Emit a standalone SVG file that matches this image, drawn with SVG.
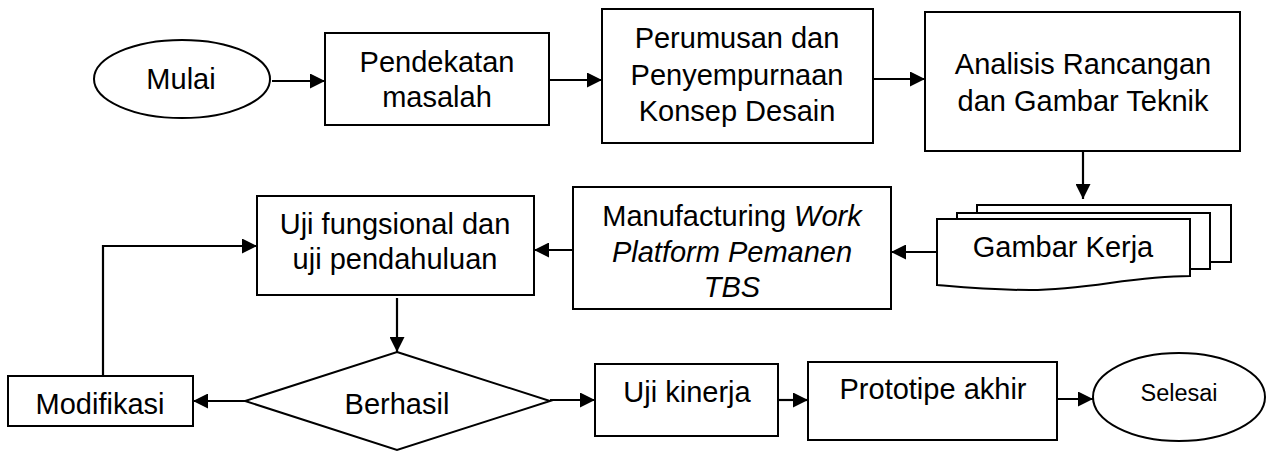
<svg xmlns="http://www.w3.org/2000/svg" width="1266" height="452" viewBox="0 0 1266 452">
<style>
.s{fill:#fff;stroke:#000;stroke-width:2}
.t{font-family:"Liberation Sans",Arial,sans-serif;font-size:29px;fill:#000;text-anchor:middle}
.c{fill:none;stroke:#000;stroke-width:2.2}
</style>
<defs>
<marker id="ah" markerUnits="userSpaceOnUse" markerWidth="15" markerHeight="15" refX="15" refY="7.5" orient="auto">
<path d="M0,0 L15,7.5 L0,15 Z" fill="#000"/>
</marker>
</defs>
<rect width="1266" height="452" fill="#fff"/>
<g id="connectors">
<path class="c" d="M272,81 H325" marker-end="url(#ah)"/>
<path class="c" d="M549,80 H602" marker-end="url(#ah)"/>
<path class="c" d="M873,79 H925" marker-end="url(#ah)"/>
<path class="c" d="M1083,151 V199" marker-end="url(#ah)"/>
<path class="c" d="M937,252 H891" marker-end="url(#ah)"/>
<path class="c" d="M573,250 H534" marker-end="url(#ah)"/>
<path class="c" d="M397,298 V352" marker-end="url(#ah)"/>
<path class="c" d="M245,401 H193" marker-end="url(#ah)"/>
<path class="c" d="M103,376 V246 H257" marker-end="url(#ah)"/>
<path class="c" d="M550,400 H595" marker-end="url(#ah)"/>
<path class="c" d="M778,400 H808" marker-end="url(#ah)"/>
<path class="c" d="M1057,399 H1093" marker-end="url(#ah)"/>
</g>
<g id="mulai">
<ellipse class="s" cx="182" cy="79" rx="88" ry="39"/>
<text class="t" x="181" y="89">Mulai</text>
</g>
<g id="pendekatan">
<rect class="s" x="325" y="33" width="224" height="92"/>
<text class="t" x="437" y="72">Pendekatan</text>
<text class="t" x="437" y="107">masalah</text>
</g>
<g id="perumusan">
<rect class="s" x="602" y="9" width="271" height="134"/>
<text class="t" x="737" y="48">Perumusan dan</text>
<text class="t" x="737" y="85">Penyempurnaan</text>
<text class="t" x="737" y="121">Konsep Desain</text>
</g>
<g id="analisis">
<rect class="s" x="925" y="12" width="315" height="139"/>
<text class="t" x="1083" y="74">Analisis Rancangan</text>
<text class="t" x="1083" y="111">dan Gambar Teknik</text>
</g>
<g id="gambar-kerja">
<rect class="s" x="977" y="205" width="254" height="57"/>
<rect class="s" x="957" y="213" width="253" height="56"/>
<path class="s" d="M937,219 H1190 V276 C1130,276 1090,290 1030,290 C990,290 960,287 937,285 Z"/>
<text class="t" x="1063" y="257">Gambar Kerja</text>
</g>
<g id="manufacturing">
<rect class="s" x="573" y="187" width="318" height="122"/>
<text class="t" x="732" y="226">Manufacturing <tspan font-style="italic">Work</tspan></text>
<text class="t" font-style="italic" x="732" y="262">Platform Pemanen</text>
<text class="t" font-style="italic" x="732" y="297">TBS</text>
</g>
<g id="uji-fungsional">
<rect class="s" x="257" y="196" width="277" height="99"/>
<text class="t" x="395" y="234">Uji fungsional dan</text>
<text class="t" x="395" y="269">uji pendahuluan</text>
</g>
<g id="berhasil">
<path class="s" d="M397,352 L550,401 L397,450 L245,401 Z"/>
<text class="t" x="397" y="414">Berhasil</text>
</g>
<g id="modifikasi">
<rect class="s" x="8" y="376" width="185" height="50"/>
<text class="t" x="100" y="414">Modifikasi</text>
</g>
<g id="uji-kinerja">
<rect class="s" x="595" y="364" width="183" height="72"/>
<text class="t" x="687" y="402">Uji kinerja</text>
</g>
<g id="prototipe">
<rect class="s" x="808" y="362" width="249" height="78"/>
<text class="t" x="933" y="399">Prototipe akhir</text>
</g>
<g id="selesai">
<ellipse class="s" cx="1179" cy="397" rx="86" ry="44"/>
<text class="t" style="font-size:23.5px" x="1179" y="401">Selesai</text>
</g>
</svg>
